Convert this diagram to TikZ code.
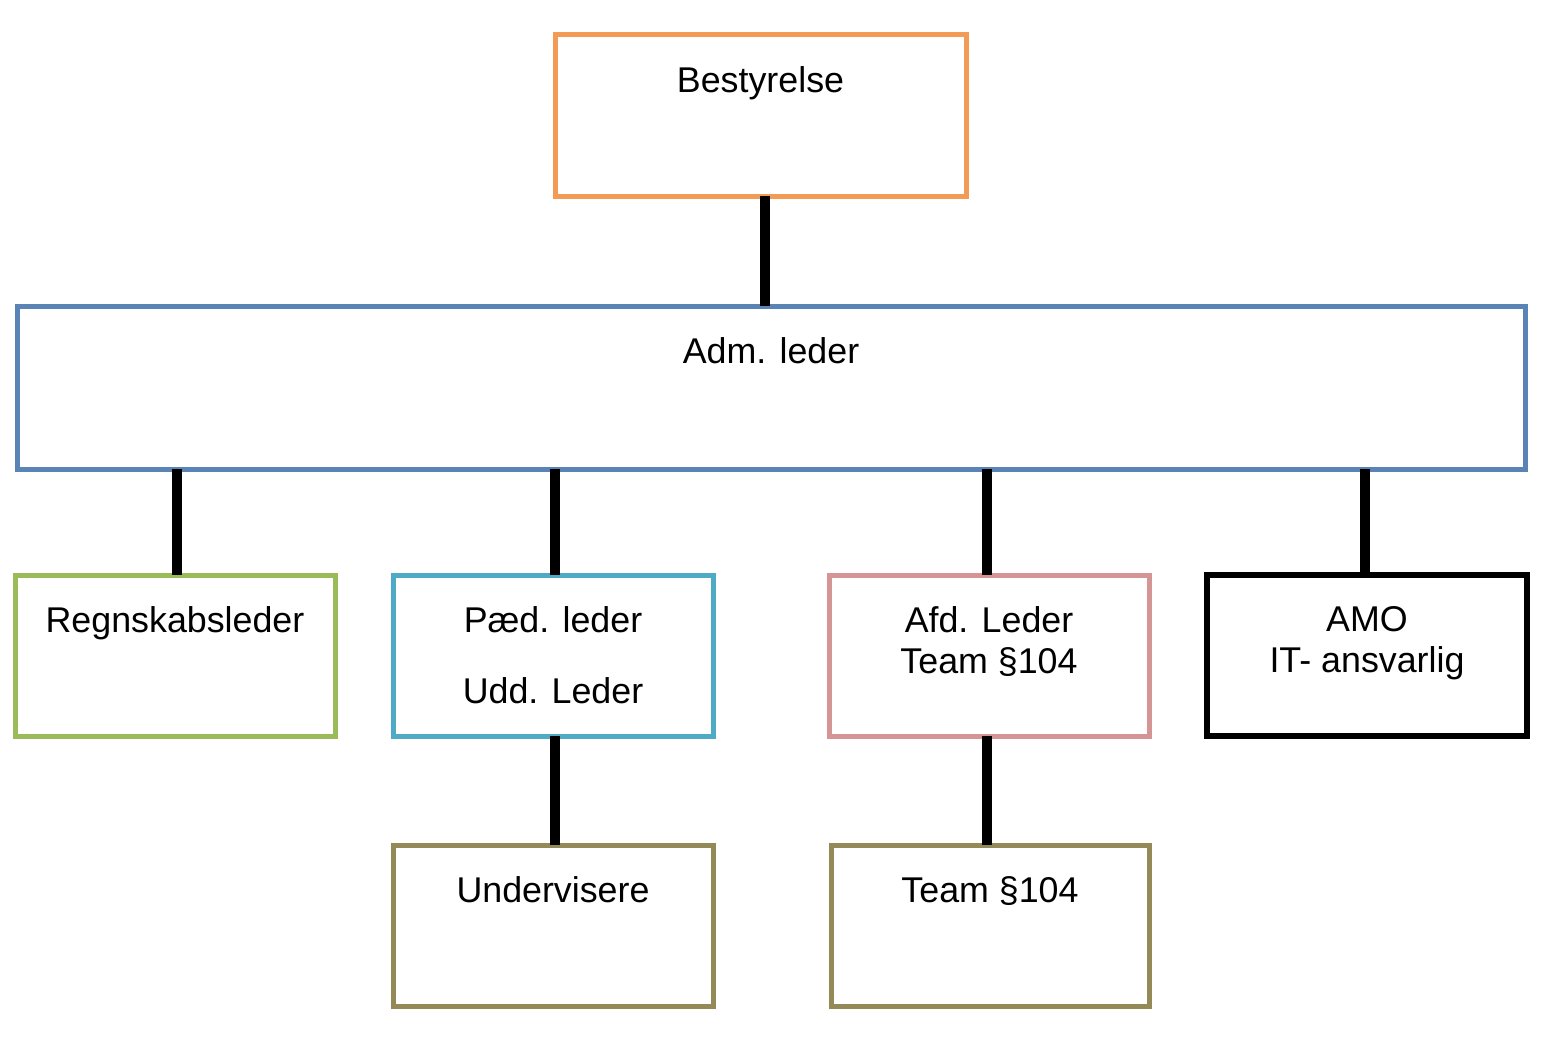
\documentclass[tikz,border=0pt]{standalone}
\usepackage{fontspec}
\setmainfont{Liberation Sans}
\definecolor{cOrange}{HTML}{F39A55}
\definecolor{cBlue}{HTML}{5A83B6}
\definecolor{cGreen}{HTML}{9BBB59}
\definecolor{cTeal}{HTML}{4FAAC5}
\definecolor{cPink}{HTML}{D69595}
\definecolor{cOlive}{HTML}{948A58}
\begin{document}
\begin{tikzpicture}[x=0.5pt,y=-0.5pt,
  box/.style={draw, rectangle, line width=2.5pt, outer sep=0pt, inner sep=0pt, fill=white},
  smallbox/.style={box, minimum width=160pt, minimum height=80.5pt},
  lab/.style={anchor=north, inner sep=0pt, align=center, font=\fontsize{17.9pt}{20.7pt}\selectfont},
  widelab/.style={lab, font=\fontsize{17.9pt}{35.5pt}\selectfont},
  conn/.style={line width=5pt, black}]
\useasboundingbox (0,0) rectangle (1542,1038);
\fill[white] (0,0) rectangle (1542,1038);

% connector x positions
\coordinate (x1) at (765,0);
\coordinate (x2) at (177,0);
\coordinate (x3) at (555,0);
\coordinate (x4) at (987,0);
\coordinate (x5) at (1365,0);

% boxes
\node[box, draw=cOrange, minimum width=205.5pt, minimum height=80.5pt] (best) at (760.5,115.5) {};
\node[box, draw=cBlue, minimum width=754pt, minimum height=81.5pt] (adm) at (771,387.5) {};
\node[smallbox, draw=cGreen] (regn) at (175,655.5) {};
\node[smallbox, draw=cTeal] (paed) at (553,655.5) {};
\node[smallbox, draw=cPink] (afd) at (989,655.5) {};
\node[smallbox, draw=black, line width=2.9pt] (amo) at (1367,655.5) {};
\node[smallbox, draw=cOlive] (und) at (553,925.5) {};
\node[smallbox, draw=cOlive, minimum width=159pt] (team) at (990,925.5) {};

% connectors
\draw[conn] (best.south -| x1) -- (adm.north -| x1);
\draw[conn] (adm.south -| x2) -- (regn.north -| x2);
\draw[conn] (adm.south -| x3) -- (paed.north -| x3);
\draw[conn] (adm.south -| x4) -- (afd.north -| x4);
\draw[conn] (adm.south -| x5) -- (amo.north -| x5);
\draw[conn] (paed.south -| x3) -- (und.north -| x3);
\draw[conn] (afd.south -| x4) -- (team.north -| x4);

% texts
\node[lab] (bestT) at ([yshift=-15.5pt]best.north) {Bestyrelse};
\node[lab] (admT) at ([yshift=-15.5pt]adm.north) {Adm. leder};
\node[lab] (regnT) at ([yshift=-15.5pt]regn.north) {Regnskabsleder};
\node[widelab] (paedT) at ([yshift=-15.5pt]paed.north) {Pæd. leder\\Udd. Leder};
\node[lab] (afdT) at ([yshift=-15.5pt]afd.north) {Afd. Leder\\Team §104};
\node[lab] (amoT) at ([yshift=-15.5pt]amo.north) {AMO\\IT- ansvarlig};
\node[lab] (undT) at ([yshift=-15.5pt]und.north) {Undervisere};
\node[lab] (teamT) at ([yshift=-15.5pt]team.north) {Team §104};
\end{tikzpicture}
\end{document}
